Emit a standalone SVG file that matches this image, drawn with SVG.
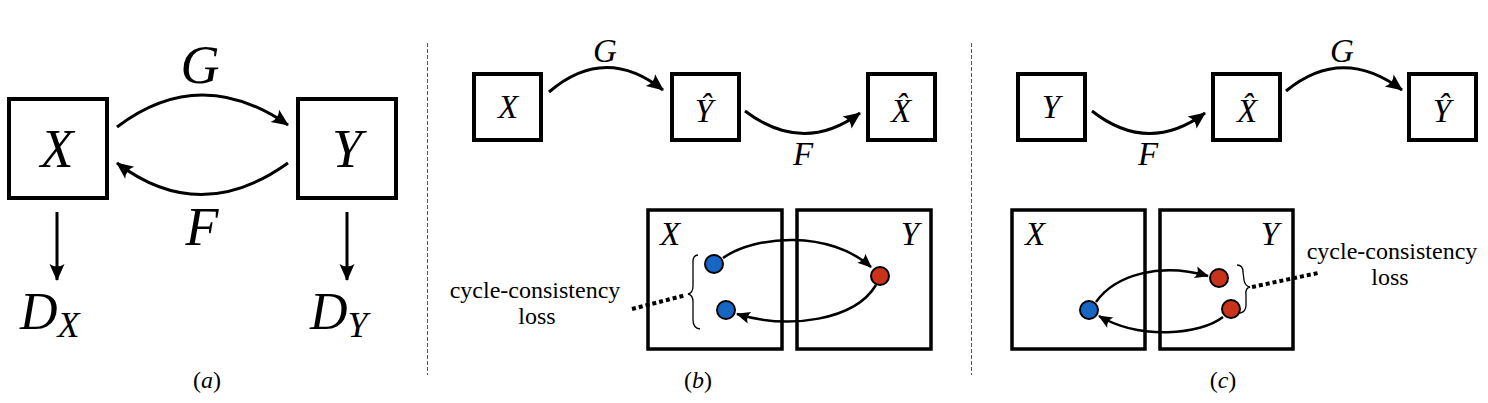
<svg xmlns="http://www.w3.org/2000/svg" width="1488" height="403" viewBox="0 0 1488 403" font-family="Liberation Serif, DejaVu Serif, serif">
<style>
.box{fill:none;stroke:#000;stroke-width:4}
.sbox{fill:none;stroke:#000;stroke-width:3.5}
.m{font-style:italic}
.big{font-size:54px}
.mid{font-size:33px}
.lbl{font-size:24px}
.arr{fill:none;stroke:#000;stroke-width:3;marker-end:url(#ah)}
.arr2{fill:none;stroke:#000;stroke-width:2.5;marker-end:url(#ahs)}
.dot{stroke:#000;stroke-width:2}
.blue{fill:#1866c4}
.red{fill:#c9331b}
.sep{stroke:#555;stroke-width:1;stroke-dasharray:4 2}
.dots{stroke:#000;stroke-width:4;stroke-dasharray:4 3;fill:none}
.brace{fill:none;stroke:#000;stroke-width:1.3}
</style>
<defs>
<marker id="ah" markerUnits="userSpaceOnUse" markerWidth="20" markerHeight="20" refX="16" refY="10" orient="auto" overflow="visible">
<path d="M17,10 L0,2.5 Q5,10 0,17.5 Z" fill="#000"/>
</marker>
<marker id="ahs" markerUnits="userSpaceOnUse" markerWidth="16" markerHeight="16" refX="13" refY="8" orient="auto" overflow="visible">
<path d="M14,8 L0,2 Q4,8 0,14 Z" fill="#000"/>
</marker>
</defs>

<g id="separators">
<line class="sep" x1="427.5" y1="43" x2="427.5" y2="375"/>
<line class="sep" x1="971.5" y1="43" x2="971.5" y2="375"/>
</g>

<!-- Panel (a) -->
<g id="a-X"><rect class="box" x="9" y="99" width="98" height="99"/><text class="m big" x="57" y="167" text-anchor="middle">X</text></g>
<g id="a-Y"><rect class="box" x="298" y="99" width="98" height="99"/><text class="m big" x="347" y="167" text-anchor="middle">Y</text></g>
<g id="a-DX"><text class="m" x="20" y="329" font-size="52">D<tspan font-size="36" dy="8">X</tspan></text></g>
<g id="a-DY"><text class="m" x="310" y="329" font-size="52">D<tspan font-size="36" dy="8">Y</tspan></text></g>
<g id="a-labels">
<text class="m big" x="200" y="83" text-anchor="middle">G</text>
<text class="m big" x="202" y="245" text-anchor="middle">F</text>
<text x="207" y="388" font-size="24" text-anchor="middle">(<tspan font-style="italic">a</tspan>)</text>
</g>

<!-- Panel (b) -->
<g id="b-X"><rect class="box" x="474" y="74" width="67" height="66"/><text class="m mid" x="508" y="118" text-anchor="middle">X</text></g>
<g id="b-Yhat"><rect class="box" x="672" y="74" width="67" height="66"/><text class="m mid" x="704" y="122" text-anchor="middle">Ŷ</text></g>
<g id="b-Xhat"><rect class="box" x="868" y="74" width="67" height="66"/><text class="m mid" x="901" y="122" text-anchor="middle">X̂</text></g>
<g id="b-domX"><rect class="sbox" x="648" y="210" width="134" height="139"/><text class="m mid" x="670" y="245" text-anchor="middle">X</text></g>
<g id="b-domY"><rect class="sbox" x="797" y="210" width="134" height="139"/><text class="m mid" x="910" y="245" text-anchor="middle">Y</text></g>
<g id="b-points">
<circle class="dot blue" cx="714" cy="264" r="9"/>
<circle class="dot blue" cx="726" cy="310" r="9"/>
<circle class="dot red" cx="880" cy="276" r="9"/>
</g>
<g id="b-loss">
<path class="brace" d="M698,255 Q693,255 693,262 L693,286 Q693,293 688,294 Q693,295 693,302 L693,320 Q693,328 700,329"/>
<path class="dots" d="M632,309 L686,295"/>
<text class="lbl" x="535" y="298" text-anchor="middle">cycle-consistency</text>
<text class="lbl" x="537" y="324" text-anchor="middle">loss</text>
</g>
<g id="b-labels">
<text class="m mid" x="605" y="62" text-anchor="middle">G</text>
<text class="m mid" x="803" y="165" text-anchor="middle">F</text>
<text x="698" y="388" font-size="24" text-anchor="middle">(<tspan font-style="italic">b</tspan>)</text>
</g>

<!-- Panel (c) -->
<g id="c-Y"><rect class="box" x="1018" y="74" width="67" height="66"/><text class="m mid" x="1051" y="118" text-anchor="middle">Y</text></g>
<g id="c-Xhat"><rect class="box" x="1213" y="74" width="67" height="66"/><text class="m mid" x="1247" y="122" text-anchor="middle">X̂</text></g>
<g id="c-Yhat"><rect class="box" x="1409" y="74" width="67" height="66"/><text class="m mid" x="1442" y="122" text-anchor="middle">Ŷ</text></g>
<g id="c-domX"><rect class="sbox" x="1012" y="210" width="133" height="139"/><text class="m mid" x="1035" y="245" text-anchor="middle">X</text></g>
<g id="c-domY"><rect class="sbox" x="1160" y="210" width="133" height="139"/><text class="m mid" x="1270" y="245" text-anchor="middle">Y</text></g>
<g id="c-points">
<circle class="dot blue" cx="1089" cy="310" r="9"/>
<circle class="dot red" cx="1219" cy="278" r="9"/>
<circle class="dot red" cx="1231" cy="309" r="9"/>
</g>
<g id="c-loss">
<path class="brace" d="M1237,265 Q1243,265 1243,272 L1244,280 Q1245,286 1250,287 Q1245,288 1246,295 L1246,305 Q1246,312 1240,313"/>
<path class="dots" d="M1252,287 L1318,273"/>
<text class="lbl" x="1392" y="259" text-anchor="middle">cycle-consistency</text>
<text class="lbl" x="1390" y="285" text-anchor="middle">loss</text>
</g>
<g id="c-labels">
<text class="m mid" x="1148" y="165" text-anchor="middle">F</text>
<text class="m mid" x="1342" y="62" text-anchor="middle">G</text>
<text x="1223" y="388" font-size="24" text-anchor="middle">(<tspan font-style="italic">c</tspan>)</text>
</g>

<g id="connectors">
<path class="arr" d="M117,127 Q200,64 288,125"/>
<path class="arr" d="M288,163 Q200,226 117,163"/>
<path class="arr" d="M57,212 L57,280"/>
<path class="arr" d="M347,212 L347,280"/>
<path class="arr" d="M549,92 Q605,44 663,90"/>
<path class="arr" d="M745,111 Q803,155 860,113"/>
<path class="arr" d="M1092,111 Q1148,155 1205,113"/>
<path class="arr" d="M1286,91 Q1342,45 1402,90"/>
<path class="arr2" d="M723,258 C755,235 830,230 871,267"/>
<path class="arr2" d="M876,285 C855,320 790,330 737,314"/>
<path class="arr2" d="M1096,302 C1115,275 1160,262 1208,276"/>
<path class="arr2" d="M1223,317 C1200,335 1140,340 1099,316"/>
</g>
</svg>
